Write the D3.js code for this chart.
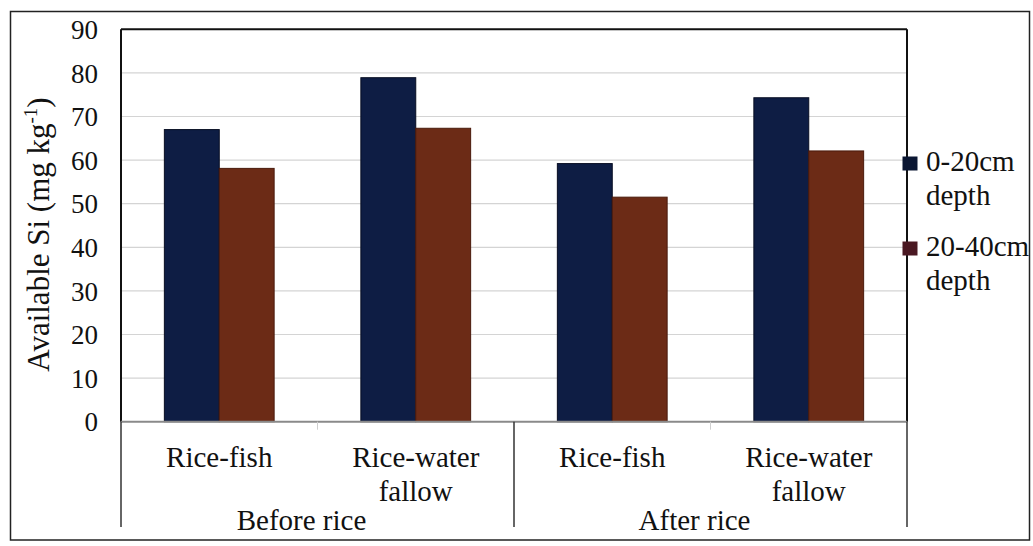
<!DOCTYPE html>
<html><head><meta charset="utf-8">
<script src="https://cdn.jsdelivr.net/npm/d3@7"></script>
</head>
<body style="margin:0;padding:0;background:#fff;"><svg id="c" width="1033" height="546" font-family="Liberation Serif" style="font-family:'Liberation Serif'"></svg>
<script>
const groups = ["Before rice", "After rice"];
const categories = ["Rice-fish", "Rice-water fallow", "Rice-fish", "Rice-water fallow"];
const categoryGroup = [0, 0, 1, 1];
const seriesNames = ["0-20cm depth", "20-40cm depth"];
const depth0_20 = [67.0, 78.9, 59.2, 74.3];
const depth20_40 = [58.1, 67.3, 51.5, 62.1];
const yTicks = [0, 10, 20, 30, 40, 50, 60, 70, 80, 90];
const barColors = ["#0e1d44", "#6c2b16"];
const legendColors = ["#0a1632", "#4a1822"];

const svg = d3.select("#c");
const L = 121, R = 907, T = 29.3, B = 421.7;

function txt(sel) {
  return sel.attr("font-family", "Liberation Serif").style("font-family", '"Liberation Serif"').attr("fill", "#111");
}

svg.append("rect").attr("x", 10.5).attr("y", 11.5).attr("width", 1019).attr("height", 528.5)
  .attr("fill", "#fff").attr("stroke", "#222").attr("stroke-width", 1.5);

const y = d3.scaleLinear().domain([0, 90]).range([B, T]);
const x = d3.scaleBand().domain(d3.range(categories.length)).range([L, R]).paddingInner(0).paddingOuter(0);
const xs = d3.scaleBand().domain([0, 1]).range([0, x.bandwidth()]).paddingInner(0).paddingOuter(0.79);

// gridlines
svg.append("g").selectAll("line").data(yTicks.filter(d => d > 0 && d < 90)).join("line")
  .attr("x1", L).attr("x2", R).attr("y1", d => y(d)).attr("y2", d => y(d))
  .attr("stroke", "#d4d4d4").attr("stroke-width", 1.2);

// bars
const series = [depth0_20, depth20_40];
series.forEach((vals, si) => {
  svg.append("g").selectAll("rect").data(vals).join("rect")
    .attr("x", (d, i) => x(i) + xs(si))
    .attr("width", xs.bandwidth())
    .attr("y", d => y(d))
    .attr("height", d => y(0) - y(d))
    .attr("fill", barColors[si])
    .attr("stroke", si === 0 ? "#070d22" : "#4a1a0c").attr("stroke-width", 1);
});

// plot border
svg.append("line").attr("x1", L).attr("x2", R).attr("y1", T).attr("y2", T).attr("stroke", "#111").attr("stroke-width", 2);
svg.append("line").attr("x1", R).attr("x2", R).attr("y1", T).attr("y2", B).attr("stroke", "#111").attr("stroke-width", 2);
svg.append("line").attr("x1", L).attr("x2", L).attr("y1", T).attr("y2", B).attr("stroke", "#111").attr("stroke-width", 2);
svg.append("line").attr("x1", L).attr("x2", R).attr("y1", B).attr("y2", B).attr("stroke", "#8a8a8a").attr("stroke-width", 2);

// y tick labels
const yAxis = d3.axisLeft(y).tickValues(yTicks).tickSize(0).tickPadding(0);
const yg = svg.append("g").attr("transform", `translate(98,0)`).call(yAxis);
yg.attr("font-family", "Liberation Serif");
yg.select(".domain").remove();
txt(yg.selectAll("text")).attr("font-size", 27).attr("dy", "0.34em");

// y title
const yt = txt(svg.append("text")).attr("transform", `translate(49,234.5) rotate(-90)`)
  .attr("text-anchor", "middle").attr("font-size", 31);
yt.append("tspan").text("Available Si (mg kg");
yt.append("tspan").attr("font-size", 19).attr("dy", -12).text("-1");
yt.append("tspan").attr("dy", 12).text(")");

// category separators (group boundaries)
const boundaries = [0, 2, 4];
svg.append("g").selectAll("line").data(boundaries).join("line")
  .attr("x1", d => d < 4 ? x(d) : R).attr("x2", d => d < 4 ? x(d) : R)
  .attr("y1", B).attr("y2", 527).attr("stroke", "#333").attr("stroke-width", 1.5);
svg.append("g").selectAll("line").data([1, 3]).join("line")
  .attr("x1", d => x(d)).attr("x2", d => x(d)).attr("y1", B).attr("y2", B + 8)
  .attr("stroke", "#cfcfcf").attr("stroke-width", 1);

// category labels
categories.forEach((c, i) => {
  const words = c === "Rice-water fallow" ? ["Rice-water", "fallow"] : [c];
  const cx = x(i) + x.bandwidth() / 2;
  const t = txt(svg.append("text")).attr("text-anchor", "middle").attr("font-size", 29)
    .attr("x", cx).attr("y", 466.7);
  words.forEach((w, k) => t.append("tspan").attr("x", cx).attr("dy", k ? 34 : 0).text(w));
});
// group labels
groups.forEach((g, gi) => {
  const idx = categoryGroup.map((v, i) => v === gi ? i : -1).filter(i => i >= 0);
  const cx = d3.mean(idx, i => x(i) + x.bandwidth() / 2);
  txt(svg.append("text")).attr("text-anchor", "middle").attr("font-size", 29)
    .attr("x", cx - 16).attr("y", 530).text(g);
});

// legend
const legY = [163.5, 248.5];
seriesNames.forEach((s, i) => {
  svg.append("rect").attr("x", 902.5).attr("y", legY[i] - 7).attr("width", 15).attr("height", 14)
    .attr("fill", legendColors[i]);
  const parts = s.split(" ");
  const t = txt(svg.append("text")).attr("font-size", 29).attr("x", 926).attr("y", legY[i] + 7);
  parts.forEach((p, k) => t.append("tspan").attr("x", 926).attr("dy", k ? 34 : 0).text(p));
});
</script></body></html>
